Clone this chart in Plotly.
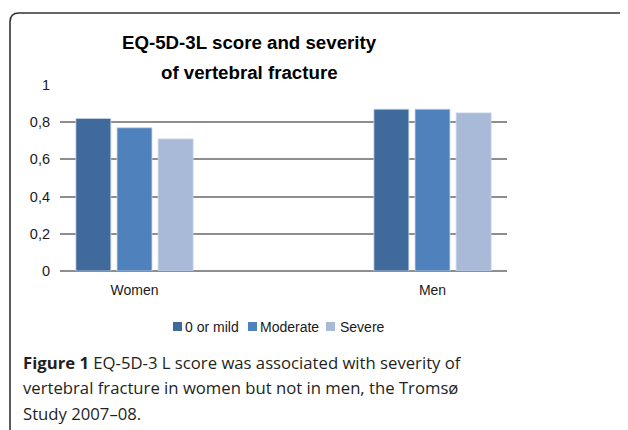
import plotly.graph_objects as go

categories = ["Women", "Men"]
series_names = ["0 or mild", "Moderate", "Severe"]
mild_vals = [0.82, 0.87]
moderate_vals = [0.77, 0.87]
severe_vals = [0.71, 0.85]
colors = ["#3F6A9B", "#4F81BD", "#A9BAD9"]
y_ticks = [0, 0.2, 0.4, 0.6, 0.8, 1]
y_tick_text = ["0", "0,2", "0,4", "0,6", "0,8", "1"]
title_lines = ["EQ-5D-3L score and severity", "of vertebral fracture"]
caption_lines = [
    "<b>Figure 1</b> EQ-5D-3 L score was associated with severity of",
    "vertebral fracture in women but not in men, the Tromsø",
    "Study 2007–08.",
]

OFF = 8  # page body margin in the browser
W, H = 628 - OFF, 430 - OFF
# plot area in page pixels
PL, PR, PT, PB = 60, 507, 85, 271
L, R, T, B = PL - OFF, PR - OFF, PT - OFF, PB - OFF


def px(x):  # page pixel -> paper x
    return (x - PL) / (PR - PL)


def py(y):  # page pixel -> paper y
    return (PB - y) / (PB - PT)


fig = go.Figure()
for name, vals, col in zip(series_names, [mild_vals, moderate_vals, severe_vals], colors):
    fig.add_trace(go.Bar(
        x=categories, y=vals, name=name,
        marker=dict(color=col, line=dict(color="#C8D3E6", width=0.8)),
    ))

fig.update_layout(
    width=W, height=H,
    margin=dict(l=L, r=W - R, t=T, b=H - B, autoexpand=False),
    paper_bgcolor="white", plot_bgcolor="white",
    barmode="group", bargap=0.586, bargroupgap=0.15,
    font=dict(family="Liberation Sans, Arial, sans-serif", size=14, color="#1a1a1a"),
    showlegend=False,
    xaxis=dict(range=[-0.25, 1.25], showgrid=False, showline=False, ticks="",
               tickfont=dict(size=14), fixedrange=True, ticklabelstandoff=9),
    yaxis=dict(range=[0, 1], tickvals=y_ticks, ticktext=y_tick_text, showgrid=True,
               gridcolor="#8E8E8E", gridwidth=1.8, zeroline=True, zerolinecolor="#8E8E8E",
               zerolinewidth=1.8, ticks="", tickfont=dict(size=14.5), ticklabelstandoff=9),
)

# Legend (drawn compactly like the original)
legend_x = [173, 248, 326]
legend_text_gap = [10, 10, 12]
for name, col, lx, g in zip(series_names, colors, legend_x, legend_text_gap):
    fig.add_shape(type="rect", xref="paper", yref="paper",
                  x0=px(lx), x1=px(lx + 9), y0=py(331), y1=py(322),
                  fillcolor=col, line=dict(width=0))
    fig.add_annotation(text=name, xref="paper", yref="paper", x=px(lx + g), y=py(326.5),
                       xanchor="left", yanchor="middle", showarrow=False,
                       font=dict(size=14, color="#1a1a1a"))

# Chart title (two lines, generous spacing)
for text, ty in zip(title_lines, [43, 72]):
    fig.add_annotation(
        text=f"<b>{text}</b>", xref="paper", yref="paper", x=px(249), y=py(ty),
        xanchor="center", yanchor="middle", showarrow=False,
        font=dict(size=18.7, color="#000000", family="Liberation Sans, Arial, sans-serif"),
    )

# Caption
for i, line in enumerate(caption_lines):
    fig.add_annotation(
        text=line, xref="paper", yref="paper", x=px(21), y=py(362 + i * 25.5),
        xanchor="left", yanchor="middle", showarrow=False,
        font=dict(size=16.7, color="#231F20", family="Open Sans, Noto Sans, sans-serif"),
    )

# Rounded frame (top-left corner)
x0, y0 = 10, 13
r = 9
path = (f"M {px(x0)},{py(450)} L {px(x0)},{py(y0 + r)} "
        f"Q {px(x0)},{py(y0)} {px(x0 + r)},{py(y0)} L {px(650)},{py(y0)}")
fig.add_shape(type="path", path=path, xref="paper", yref="paper",
              line=dict(color="#333333", width=1.6), layer="above")

fig.write_html("out.html")
